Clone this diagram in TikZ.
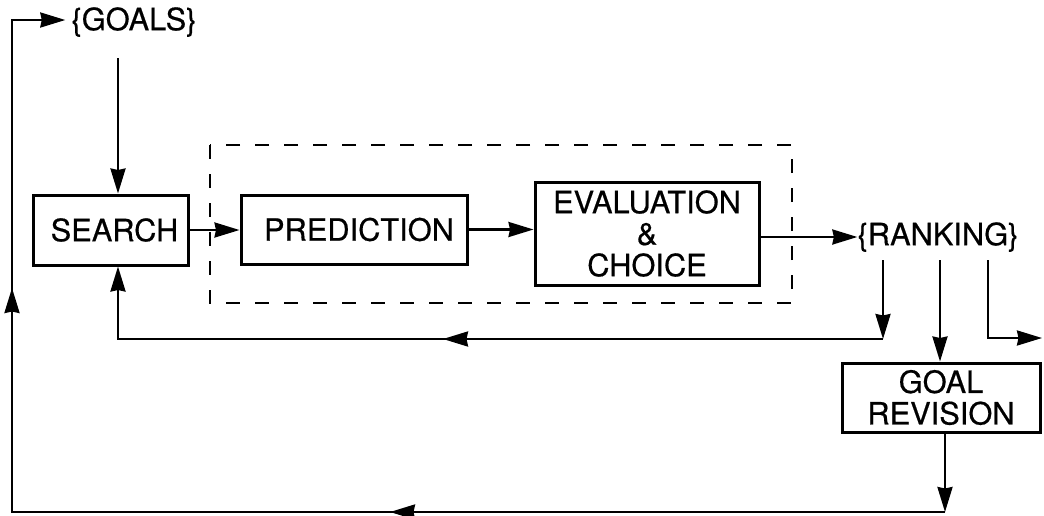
\documentclass[tikz,border=0pt]{standalone}
\usepackage{fontspec}
\newfontfamily\diagfont[FakeBold=0.5]{TeX Gyre Heros}
\usetikzlibrary{arrows.meta,decorations.markings}

\tikzset{
  txt/.style={font=\diagfont\fontsize{30.8}{31.5}\selectfont, align=center},
  box/.style={txt, draw, line width=3pt, inner sep=0pt},
  lbl/.style={txt, inner sep=0pt},
  tipshape/.tip={Stealth[length=25pt,width=15pt,inset=1.5pt]},
  wire/.style={line width=2.4pt},
  flow/.style={wire, -tipshape},
  frame/.style={line width=2.6pt, dash pattern=on 14pt off 15pt},
  midtip/.style={postaction=decorate,
    decoration={markings, mark=at position #1 with {\arrow{tipshape}}}},
  twotips/.style 2 args={postaction=decorate,
    decoration={markings,
      mark=at position #1 with {\arrow{tipshape}},
      mark=at position #2 with {\arrow{tipshape}}}}
}

\begin{document}
\begin{tikzpicture}[x=1pt,y=-1pt]
  \useasboundingbox[fill=white] (0,0) rectangle (1044,515);

  % labels and blocks
  \node[lbl] (goals) at (134,22) {\{GOALS\}};
  \node[lbl] (rank) at (938,237) {\{RANKING\}};
  \node[box, minimum width=155pt, minimum height=70pt] (search) at (110.5,230) {\hspace*{8pt}SEARCH};
  \node[box, minimum width=226pt, minimum height=69pt] (pred) at (354,229.5) {\hspace*{10pt}PREDICTION};
  \node[box, minimum width=224pt, minimum height=103pt] (eval) at (647,233.5) {EVALUATION\\\&\\CHOICE};
  \node[box, minimum width=198pt, minimum height=69pt] (grev) at (941,397.5) {GOAL\\REVISION};

  % dashed frame round prediction and evaluation
  \draw[frame] (210,145) rectangle (792,303);

  % junction points
  \coordinate (gdown) at (118,58);
  \coordinate (r1) at (883,260);
  \coordinate (r2) at (940,260);
  \coordinate (r3) at (988,260);
  \coordinate (c1) at (883,339);
  \coordinate (s1) at (118,339);
  \coordinate (r3c) at (988,338);
  \coordinate (outend) at (1042,338);
  \coordinate (c2) at (945,512);
  \coordinate (lb) at (12,512);
  \coordinate (lt) at (12,20);

  % forward chain
  \draw[flow] (gdown) -- (gdown |- search.north);
  \draw[flow] (search.east) -- (search.east -| pred.west);
  \draw[flow] (pred.east) -- (pred.east -| eval.west);
  \draw[flow] (eval.east |- rank.west) -- (rank.west);

  % outputs of the ranking
  \draw[flow] (r1) -- (c1);
  \draw[flow] (r2) -- (r2 |- grev.north);
  \draw[flow] (r3) -- (r3c) -- (outend);

  % feedback to search
  \draw[flow, midtip=440pt] (c1) -- (s1) -- (s1 |- search.south);

  % goal revision back to the goals
  \draw[flow] (c2 |- grev.south) -- (c2);
  \draw[flow, shorten >=6pt, twotips={555pt}{1157pt}] (c2) -- (lb) -- (lt) -- (lt -| goals.west);
\end{tikzpicture}
\end{document}
